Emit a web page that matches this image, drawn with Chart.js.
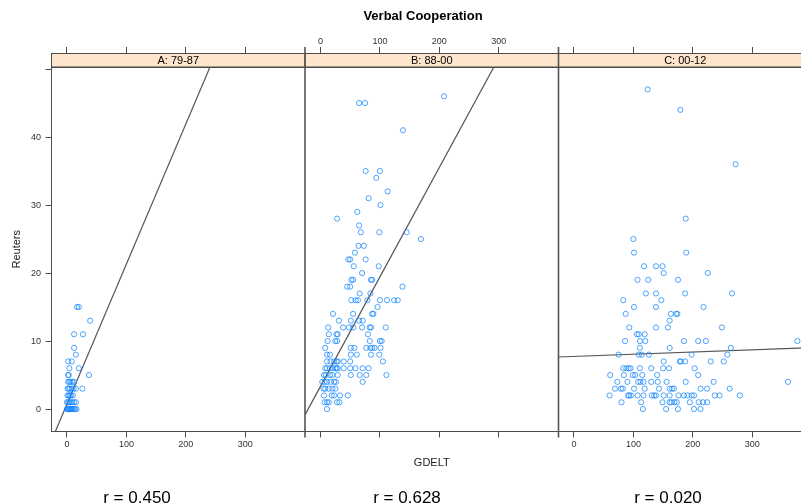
<!DOCTYPE html>
<html>
<head>
<meta charset="utf-8">
<script src="https://cdn.jsdelivr.net/npm/chart.js@4"></script>
<style>
  html, body { margin: 0; padding: 0; background: #fff; overflow: hidden; }
  #wrap { position: absolute; left: 0; top: 0; width: 846px; height: 504px; }
</style>
</head>
<body>
<div id="wrap"><canvas id="chart" width="846" height="504"></canvas></div>
<script>
// panels, correlation and fitted lines
const panelNames = ["A: 79-87", "B: 88-00", "C: 00-12"];
const rValues = ["0.450", "0.628", "0.020"];
const fitIntercepts = [0.72, 3.33, 7.74];
const fitSlopes = [0.206, 0.161, 0.0032];

// axis ranges and ticks
const xRange = [-26, 400.5];
const yRange = [-3.3, 50.3];
const xTicks = [0, 100, 200, 300];
const yTicks = [0, 10, 20, 30, 40, 50];

// [GDELT, Reuters] pairs
const pointsA = [
  [17,15],[20,15],[39,13],[12,11],[27,11],[12,9],[15,8],[2,7],[8,7],[4,6],[20,6],
  [2,5],[3,5],[37,5],[2,4],[4,4],[6,4],[9,4],[12,4],
  [1,3],[3,3],[5,3],[8,3],[11,3],[15,3],[26,3],[1,2],[3,2],[5,2],[7,2],[10,2],
  [0,1],[2,1],[4,1],[6,1],[9,1],[12,1],[15,1],
  [0,0],[1,0],[2,0],[3,0],[4,0],[5,0],[6,0],[7,0],[8,0],[10,0],[12,0],[14,0],[16,0]
];
const pointsB = [
  [208,46],[65,45],[75,45],[139,41],[76,35],[100,35],[94,34],[113,32],[81,31],[101,30],
  [62,29],[28,28],[65,27],[68,26],[99,26],[145,26],[169,25],[64,24],[73,24],[58,23],
  [47,22],[50,22],[76,22],[56,21],[98,21],[70,20],[52,19],[55,19],[85,19],[87,19],
  [45,18],[50,18],[138,18],[66,17],[84,17],
  [52,16],[59,16],[63,16],[79,16],[100,16],[112,16],[124,16],[130,16],[96,15],
  [21,14],[55,14],[87,14],[89,14],[31,13],[51,13],[65,13],[71,13],
  [13,12],[38,12],[48,12],[55,12],[70,12],[83,12],[85,12],[110,12],
  [14,11],[27,11],[29,11],[80,11],[12,10],[25,10],[28,10],[83,10],[100,10],[103,10],
  [8,9],[51,9],[57,9],[77,9],[84,9],[87,9],[91,9],[101,9],
  [11,8],[16,8],[51,8],[61,8],[85,8],[99,8],
  [11,7],[17,7],[23,7],[27,7],[29,7],[39,7],[50,7],[105,7],
  [8,6],[11,6],[16,6],[20,6],[25,6],[27,6],[29,6],[39,6],[50,6],[59,6],[71,6],[81,6],
  [6,5],[9,5],[16,5],[20,5],[29,5],[51,5],[66,5],[77,5],[111,5],
  [3,4],[7,4],[11,4],[17,4],[23,4],[26,4],[71,4],
  [5,3],[8,3],[14,3],[20,3],[25,3],[6,2],[19,2],[23,2],[33,2],[46,2],
  [7,1],[11,1],[14,1],[28,1],[32,1],[11,0]
];
const pointsC = [
  [124,47],[179,44],[272,36],[188,28],[100,25],[101,23],[189,23],
  [118,21],[138,21],[149,21],[151,20],[225,20],[107,19],[125,19],[175,19],
  [121,17],[138,17],[187,17],[266,17],[83,16],[147,16],[101,15],[138,15],[218,15],
  [87,14],[163,14],[172,14],[174,14],[161,13],[93,12],[138,12],[158,12],[249,12],
  [106,11],[109,11],[119,11],
  [86,10],[111,10],[120,10],[185,10],[209,10],[222,10],[376,10],
  [111,9],[161,9],[264,9],[75,8],[109,8],[114,8],[126,8],[198,8],[258,8],
  [151,7],[178,7],[180,7],[187,7],[230,7],[252,7],
  [83,6],[88,6],[92,6],[95,6],[111,6],[130,6],[150,6],[160,6],[203,6],
  [61,5],[84,5],[99,5],[103,5],[115,5],[140,5],[209,5],
  [73,4],[90,4],[108,4],[112,4],[117,4],[130,4],[141,4],[156,4],[188,4],[235,4],[360,4],
  [69,3],[79,3],[82,3],[101,3],[119,3],[143,3],[161,3],[165,3],[168,3],[213,3],[224,3],[262,3],
  [60,2],[91,2],[93,2],[96,2],[107,2],[117,2],[131,2],[135,2],[138,2],[151,2],[161,2],
  [176,2],[185,2],[191,2],[198,2],[202,2],[237,2],[245,2],[279,2],
  [80,1],[113,1],[149,1],[161,1],[164,1],[169,1],[173,1],[195,1],[210,1],[217,1],[224,1],
  [116,0],[155,0],[175,0],[202,0],[213,0]
];

const FONT = '"Liberation Sans", Arial, Helvetica, sans-serif';
const AXIS_GREY = "#4d4d4d";
const POINT_BLUE = "rgba(20,135,255,0.75)";

// strips, panel separators and the r labels under each panel
const latticeDecor = {
  id: "latticeDecor",
  afterDraw(chart) {
    const { ctx, chartArea } = chart;
    const stripH = 13.5;
    const rLabelX = [137, 407, 668];
    ctx.save();
    panelNames.forEach((name, i) => {
      const s = chart.scales["x" + i];
      const top = chartArea.top - stripH;
      ctx.fillStyle = "#ffe5cc";
      ctx.fillRect(s.left, top, s.right - s.left, stripH);
      ctx.strokeStyle = AXIS_GREY;
      ctx.lineWidth = 1;
      ctx.strokeRect(s.left, top, s.right - s.left, stripH);

      ctx.fillStyle = "#000";
      ctx.font = "11px " + FONT;
      ctx.textAlign = "center";
      ctx.textBaseline = "middle";
      ctx.fillText(name, (s.left + s.right) / 2, top + stripH / 2 + 0.5);

      if (i > 0) {
        ctx.strokeStyle = "#555";
        ctx.lineWidth = 1.6;
        ctx.beginPath();
        ctx.moveTo(s.left, chartArea.top - 20);
        ctx.lineTo(s.left, chartArea.bottom + 6);
        ctx.stroke();
      }

      ctx.fillStyle = "#000";
      ctx.font = "17px " + FONT;
      ctx.textBaseline = "alphabetic";
      ctx.fillText("r = " + rValues[i], rLabelX[i], 502.5);
    });
    ctx.restore();
  },
};

function xAxis(position, stack, showLabels, title) {
  const isTop = position === "top";
  return {
    type: "linear",
    position,
    stack,
    stackWeight: 1,
    min: xRange[0],
    max: xRange[1],
    afterBuildTicks: (s) => { s.ticks = xTicks.map((v) => ({ value: v })); },
    afterFit: (s) => { s.height = isTop ? 42.6 : 38; },
    ticks: {
      autoSkip: false,
      maxRotation: 0,
      padding: isTop ? 0 : 2,
      color: "#333",
      font: { family: FONT, size: 9 },
      callback: (v) => (showLabels ? String(v) : ""),
    },
    grid: { drawOnChartArea: false, tickLength: isTop ? 20 : 6, color: AXIS_GREY },
    border: { color: AXIS_GREY, width: 1 },
    title: title
      ? { display: true, text: title, color: "#222", font: { family: FONT, size: 11 }, padding: { top: 0, bottom: 0 } }
      : { display: false },
  };
}

const datasets = [];
[pointsA, pointsB, pointsC].forEach((pts, i) => {
  datasets.push({
    label: panelNames[i],
    data: pts.map(([x, y]) => ({ x, y })),
    xAxisID: "x" + i,
    yAxisID: "y",
    pointRadius: 2.6,
    pointBorderWidth: 1,
    pointBorderColor: POINT_BLUE,
    pointBackgroundColor: "rgba(0,0,0,0)",
  });
  datasets.push({
    label: "fit " + panelNames[i],
    data: xRange.map((x) => ({ x, y: fitIntercepts[i] + fitSlopes[i] * x })),
    xAxisID: "x" + i,
    yAxisID: "y",
    showLine: true,
    pointRadius: 0,
    borderColor: "#555",
    borderWidth: 1.2,
  });
});

new Chart(document.getElementById("chart"), {
  type: "scatter",
  data: { datasets },
  plugins: [latticeDecor],
  options: {
    responsive: false,
    animation: false,
    devicePixelRatio: 1,
    events: [],
    layout: { padding: { left: 0, right: 0, top: 0, bottom: 34.5 } },
    plugins: {
      legend: { display: false },
      tooltip: { enabled: false },
      title: {
        display: true,
        text: "Verbal Cooperation",
        color: "#000",
        font: { family: FONT, size: 13, weight: "bold" },
        padding: { top: 8.8, bottom: 0 },
      },
    },
    scales: {
      y: {
        type: "linear",
        position: "left",
        min: yRange[0],
        max: yRange[1],
        afterBuildTicks: (s) => { s.ticks = yTicks.map((v) => ({ value: v })); },
        afterFit: (s) => { s.width = 51.5; },
        ticks: {
          padding: 4.5,
          color: "#333",
          font: { family: FONT, size: 9 },
          callback: (v) => (v === 50 ? "" : String(v)),
        },
        grid: { drawOnChartArea: false, tickLength: 6, color: AXIS_GREY },
        border: { color: AXIS_GREY, width: 1 },
        title: { display: true, text: "Reuters", color: "#222", font: { family: FONT, size: 11 }, padding: { top: 10.7, bottom: 0 } },
      },
      yR: {
        type: "linear",
        position: "right",
        min: yRange[0],
        max: yRange[1],
        afterBuildTicks: (s) => { s.ticks = yTicks.map((v) => ({ value: v })); },
        afterFit: (s) => { s.width = 34; },
        ticks: { callback: () => "" },
        grid: { drawOnChartArea: false, tickLength: 6, color: AXIS_GREY },
        border: { color: AXIS_GREY, width: 1 },
      },
      x0: xAxis("bottom", "bottom", true),
      x1: xAxis("bottom", "bottom", false, "GDELT"),
      x2: xAxis("bottom", "bottom", true),
      t0: xAxis("top", "top", false),
      t1: xAxis("top", "top", true),
      t2: xAxis("top", "top", false),
    },
  },
});
</script>
</body>
</html>
